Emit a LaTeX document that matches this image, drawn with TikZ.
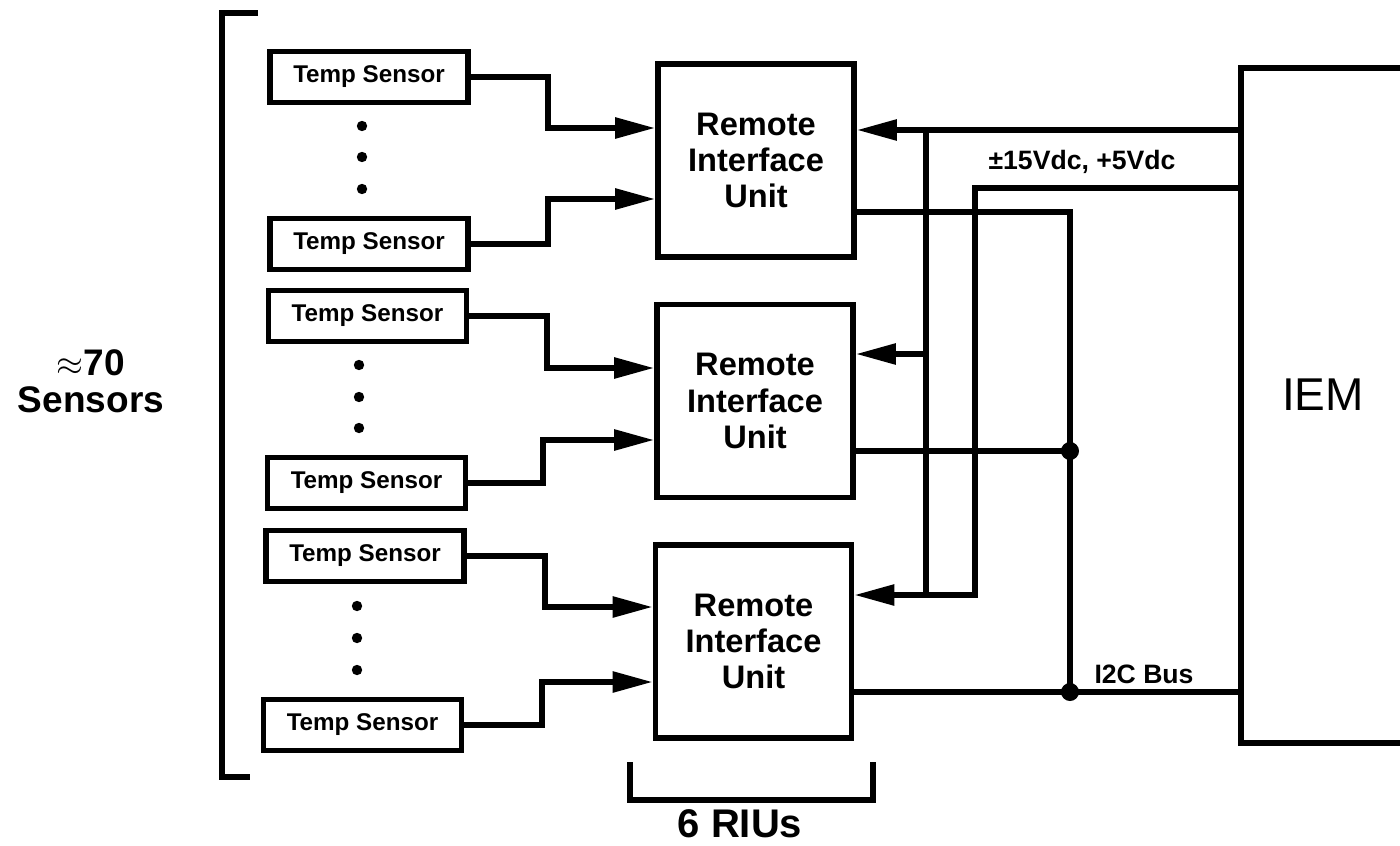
\documentclass[tikz,border=0pt]{standalone}
\usepackage{fontspec}
\setmainfont{Liberation Sans}
\usetikzlibrary{arrows.meta}
\begin{document}
\begin{tikzpicture}[x=0.5pt,y=-0.5pt, line width=2.8pt,
  sensorbox/.style={draw, rectangle, minimum width=99pt, minimum height=25.5pt, inner sep=0pt,
    font=\bfseries\fontsize{12.1}{14}\selectfont},
  riubox/.style={draw, rectangle, minimum width=98pt, minimum height=96.5pt, inner sep=0pt, align=center,
    font=\bfseries\fontsize{16.3}{18.2}\selectfont},
  conn/.style={line join=miter},
  arr/.style={conn, -{Triangle[length=20pt,width=10pt]}},
  lbl/.style={font=\bfseries\fontsize{13.3}{15}\selectfont},
  biglbl/.style={font=\bfseries\fontsize{18.5}{18.5}\selectfont, align=center}]

\useasboundingbox (0,0) rectangle (1400,845);

% sensors
\node[sensorbox] (s1) at (369,77) {Temp Sensor};
\node[sensorbox] (s2) at (369,244) {Temp Sensor};
\node[sensorbox] (s3) at (367.5,316) {Temp Sensor};
\node[sensorbox] (s4) at (366.5,483) {Temp Sensor};
\node[sensorbox] (s5) at (365,556) {Temp Sensor};
\node[sensorbox] (s6) at (362.5,725) {Temp Sensor};

% ellipsis dots
\foreach \x/\y in {362/126, 362/157, 362/189, 359/365, 359/397, 359/428, 357/606, 357/638, 357/670}
  \fill (\x,\y) circle (2.6pt);

% RIUs
\node[riubox] (r1) at (756,160.5) {Remote\\Interface\\Unit};
\node[riubox] (r2) at (755,401) {Remote\\Interface\\Unit};
\node[riubox] (r3) at (753.5,641.5) {Remote\\Interface\\Unit};

% IEM
\node[rectangle, minimum width=79.5pt, minimum height=337.5pt, inner sep=0pt, outer sep=0pt] (iem) at (1320.5,405.5) {};
\draw[conn] (iem.north east) -- (iem.north west) -- (iem.south west) -- (iem.south east);
\node[font=\fontsize{23}{25}\selectfont] (iemlabel) at (1323,395) {IEM};

% sensor -> RIU connectors
\draw[arr] (s1.east) -| (548,128) -- (r1.west |- 0,128);
\draw[arr] (s2.east) -| (548,199) -- (r1.west |- 0,199);
\draw[arr] (s3.east) -| (547,368) -- (r2.west |- 0,368);
\draw[arr] (s4.east) -| (543,440) -- (r2.west |- 0,440);
\draw[arr] (s5.east) -| (545,607) -- (r3.west |- 0,607);
\draw[arr] (s6.east) -| (542,682) -- (r3.west |- 0,682);

% power lines
\coordinate (p1) at (926,130);
\coordinate (p1b) at (926,595);
\coordinate (p2) at (975,188);
\draw[arr] (iem.west |- p1) -- (r1.east |- p1);
\draw[conn] (p1) -- (p1b);
\draw[arr] (p1 |- 0,354) -- (r2.east |- 0,354);
\draw[arr] (iem.west |- p2) -- (p2) |- (r3.east |- p1b);

% I2C bus
\coordinate (q1) at (1070,212);
\coordinate (j1) at (1070,451);
\coordinate (j2) at (1070,692);
\draw[conn] (r1.east |- q1) -- (q1) -- (j2);
\draw[conn] (r2.east |- j1) -- (j1);
\draw[conn] (r3.east |- j2) -- (iem.west |- j2);
\fill (j1) circle (4.5pt);
\fill (j2) circle (4.5pt);

% labels
\node[lbl] (vdc) at (1082,162) {±15Vdc, +5Vdc};
\node[lbl] (i2c) at (1144,674) {I2C Bus};
\node[biglbl] (nsens) at (91,381) {$\approx$70\\Sensors};
\node[biglbl, font=\bfseries\fontsize{20}{22}\selectfont] (rius) at (740,824) {6 RIUs};

% brackets
\draw[conn] (258,13) -- (222,13) -- (222,777) -- (250,777);
\draw[conn] (630,762) -- (630,800) -- (873,800) -- (873,762);
\end{tikzpicture}
\end{document}
